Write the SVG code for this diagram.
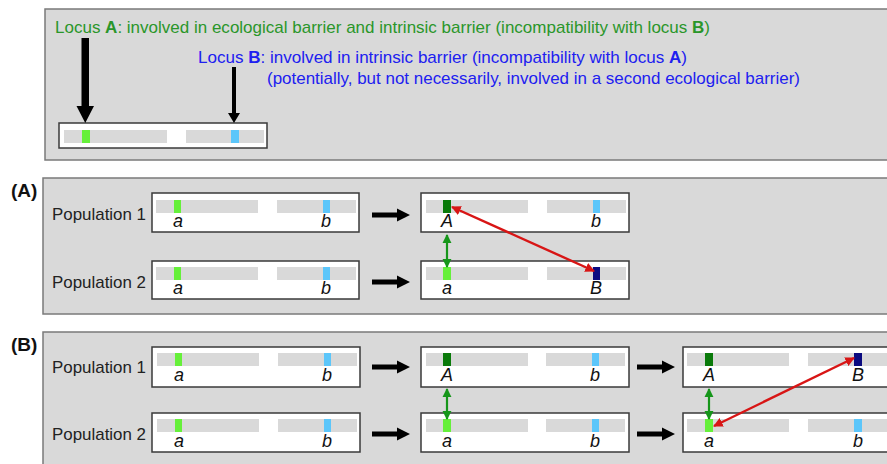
<svg xmlns="http://www.w3.org/2000/svg" width="887" height="464" viewBox="0 0 887 464">
<defs>
<style>
.panel{fill:#d9d9d9;stroke:#7a7a7a;stroke-width:1.5}
.box{fill:#ffffff;stroke:#3a3a3a;stroke-width:1.5}
.bar{fill:#d9d9d9}
.lg{fill:#66f03a}
.dg{fill:#0a7a0a}
.cy{fill:#5cc6fa}
.nv{fill:#0a0a80}
.t{font-family:"Liberation Sans",Arial,sans-serif;font-size:17px;fill:#222}
.lbl{font-family:"Liberation Sans",Arial,sans-serif;font-size:18px;font-style:italic;fill:#111;text-anchor:middle}
.plab{font-family:"Liberation Sans",Arial,sans-serif;font-size:19px;font-weight:bold;fill:#111}
.gtxt{font-family:"Liberation Sans",Arial,sans-serif;font-size:17px;fill:#2a962a}
.btxt{font-family:"Liberation Sans",Arial,sans-serif;font-size:17px;fill:#2020f0}
.blk{fill:#000}
.garr{stroke:#16961a;stroke-width:2.2;fill:none;marker-start:url(#gh);marker-end:url(#gh)}
.rarr{stroke:#d81515;stroke-width:2.4;fill:none;marker-start:url(#rh);marker-end:url(#rh)}
</style>
<marker id="gh" viewBox="0 0 10 10" refX="9" refY="5" markerWidth="4.2" markerHeight="4.2" orient="auto-start-reverse" markerUnits="strokeWidth"><path d="M0,0 L10,5 L0,10 z" fill="#16961a"/></marker>
<marker id="rh" viewBox="0 0 10 10" refX="9" refY="5" markerWidth="4" markerHeight="4" orient="auto-start-reverse" markerUnits="strokeWidth"><path d="M0,0 L10,5 L0,10 z" fill="#d81515"/></marker>
</defs>

<!-- Panels -->
<rect class="panel" x="45" y="9" width="860" height="151"/>
<rect class="panel" x="43" y="178" width="860" height="136"/>
<rect class="panel" x="43" y="332" width="860" height="150"/>
<text class="plab" x="11" y="197">(A)</text>
<text class="plab" x="11" y="351">(B)</text>

<!-- Top legend -->
<g id="legend">
<text class="gtxt" x="55" y="33" textLength="655" lengthAdjust="spacingAndGlyphs">Locus <tspan font-weight="bold">A</tspan>: involved in ecological barrier and intrinsic barrier (incompatibility with locus <tspan font-weight="bold">B</tspan>)</text>
<text class="btxt" x="198" y="63" textLength="489" lengthAdjust="spacingAndGlyphs">Locus <tspan font-weight="bold">B</tspan>: involved in intrinsic barrier (incompatibility with locus <tspan font-weight="bold">A</tspan>)</text>
<text class="btxt" x="267" y="84" textLength="533" lengthAdjust="spacingAndGlyphs">(potentially, but not necessarily, involved in a second ecological barrier)</text>
</g>
<g id="legend-chrom">
<rect class="box" x="59" y="123" width="208" height="25"/>
<rect class="bar" x="64" y="130" width="103" height="13"/>
<rect class="bar" x="186" y="130" width="78" height="13"/>
<rect class="lg" x="82" y="130" width="8" height="13"/>
<rect class="cy" x="231" y="130" width="8" height="13"/>
</g>

<!-- Panel A -->
<text class="t" x="52" y="220" textLength="94" lengthAdjust="spacingAndGlyphs">Population 1</text>
<text class="t" x="52" y="288" textLength="94" lengthAdjust="spacingAndGlyphs">Population 2</text>
<g id="A-p1-start">
<rect class="box" x="152" y="193" width="207" height="39"/>
<rect class="bar" x="156" y="200" width="102" height="13"/>
<rect class="bar" x="277" y="200" width="79" height="13"/>
<rect class="lg" x="174" y="200" width="7" height="13"/>
<rect class="cy" x="323" y="200" width="7" height="13"/>
<text class="lbl" x="178" y="227">a</text>
<text class="lbl" x="326" y="227">b</text>
</g>
<g id="A-p2-start">
<rect class="box" x="152" y="261" width="207" height="38"/>
<rect class="bar" x="156" y="267" width="102" height="13"/>
<rect class="bar" x="277" y="267" width="79" height="13"/>
<rect class="lg" x="174" y="267" width="7" height="13"/>
<rect class="cy" x="323" y="267" width="7" height="13"/>
<text class="lbl" x="178" y="294">a</text>
<text class="lbl" x="326" y="294">b</text>
</g>
<g id="A-p1-end">
<rect class="box" x="421" y="193" width="208" height="39"/>
<rect class="bar" x="426" y="200" width="102" height="13"/>
<rect class="bar" x="547" y="200" width="79" height="13"/>
<rect class="dg" x="443" y="200" width="8" height="13"/>
<rect class="cy" x="593" y="200" width="7" height="13"/>
<text class="lbl" x="447" y="227">A</text>
<text class="lbl" x="596" y="227">b</text>
</g>
<g id="A-p2-end">
<rect class="box" x="421" y="261" width="208" height="38"/>
<rect class="bar" x="426" y="267" width="102" height="13"/>
<rect class="bar" x="547" y="267" width="79" height="13"/>
<rect class="lg" x="443" y="267" width="8" height="13"/>
<rect class="nv" x="593" y="267" width="7" height="13"/>
<text class="lbl" x="447" y="294">a</text>
<text class="lbl" x="596" y="294">B</text>
</g>

<!-- Panel B -->
<text class="t" x="52" y="373" textLength="94" lengthAdjust="spacingAndGlyphs">Population 1</text>
<text class="t" x="52" y="440" textLength="94" lengthAdjust="spacingAndGlyphs">Population 2</text>
<g id="B-p1-start">
<rect class="box" x="152" y="347" width="208" height="40"/>
<rect class="bar" x="157" y="353" width="102" height="13"/>
<rect class="bar" x="278" y="353" width="79" height="13"/>
<rect class="lg" x="175" y="353" width="7" height="13"/>
<rect class="cy" x="324" y="353" width="7" height="13"/>
<text class="lbl" x="179" y="381">a</text>
<text class="lbl" x="327" y="381">b</text>
</g>
<g id="B-p2-start">
<rect class="box" x="152" y="413" width="208" height="39"/>
<rect class="bar" x="157" y="419" width="102" height="13"/>
<rect class="bar" x="278" y="419" width="79" height="13"/>
<rect class="lg" x="175" y="419" width="7" height="13"/>
<rect class="cy" x="324" y="419" width="7" height="13"/>
<text class="lbl" x="179" y="447">a</text>
<text class="lbl" x="327" y="447">b</text>
</g>
<g id="B-p1-mid">
<rect class="box" x="421" y="347" width="208" height="40"/>
<rect class="bar" x="426" y="353" width="102" height="13"/>
<rect class="bar" x="546" y="353" width="79" height="13"/>
<rect class="dg" x="443" y="353" width="8" height="13"/>
<rect class="cy" x="592" y="353" width="7" height="13"/>
<text class="lbl" x="447" y="381">A</text>
<text class="lbl" x="595" y="381">b</text>
</g>
<g id="B-p2-mid">
<rect class="box" x="421" y="413" width="208" height="39"/>
<rect class="bar" x="426" y="419" width="102" height="13"/>
<rect class="bar" x="546" y="419" width="79" height="13"/>
<rect class="lg" x="443" y="419" width="8" height="13"/>
<rect class="cy" x="592" y="419" width="7" height="13"/>
<text class="lbl" x="447" y="447">a</text>
<text class="lbl" x="595" y="447">b</text>
</g>
<g id="B-p1-end">
<rect class="box" x="683" y="347" width="220" height="40"/>
<rect class="bar" x="687" y="353" width="102" height="13"/>
<rect class="bar" x="808" y="353" width="90" height="13"/>
<rect class="dg" x="705" y="353" width="8" height="13"/>
<rect class="nv" x="854" y="353" width="8" height="13"/>
<text class="lbl" x="709" y="381">A</text>
<text class="lbl" x="858" y="381">B</text>
</g>
<g id="B-p2-end">
<rect class="box" x="683" y="413" width="220" height="39"/>
<rect class="bar" x="687" y="419" width="102" height="13"/>
<rect class="bar" x="808" y="419" width="90" height="13"/>
<rect class="lg" x="705" y="419" width="8" height="13"/>
<rect class="cy" x="854" y="419" width="8" height="13"/>
<text class="lbl" x="709" y="447">a</text>
<text class="lbl" x="858" y="447">b</text>
</g>

<!-- Connectors -->
<g id="connectors">
<polygon class="blk" points="81.5,38 89,38 89,106 94,106 85.25,123 76.5,106 81.5,106"/>
<polygon class="blk" points="232,67 236,67 236,113 240,113 234,123 228,113 232,113"/>
<polygon class="blk" points="372,212.5 397,212.5 397,208.5 410,215 397,221.5 397,217.5 372,217.5"/>
<polygon class="blk" points="372,279.5 397,279.5 397,275.5 410,282 397,288.5 397,284.5 372,284.5"/>
<polygon class="blk" points="372,364.5 397,364.5 397,360.5 410,367 397,373.5 397,369.5 372,369.5"/>
<polygon class="blk" points="372,431.5 397,431.5 397,427.5 410,434 397,440.5 397,436.5 372,436.5"/>
<polygon class="blk" points="637,364.5 662,364.5 662,360.5 675,367 662,373.5 662,369.5 637,369.5"/>
<polygon class="blk" points="637,431.5 662,431.5 662,427.5 675,434 662,440.5 662,436.5 637,436.5"/>
<line class="garr" x1="447" y1="235" x2="447" y2="267"/>
<line class="garr" x1="447" y1="389" x2="447" y2="419"/>
<line class="garr" x1="709" y1="389" x2="709" y2="419"/>
<line class="rarr" x1="452" y1="207" x2="594" y2="271"/>
<line class="rarr" x1="714" y1="426" x2="854" y2="358"/>
</g>
</svg>
